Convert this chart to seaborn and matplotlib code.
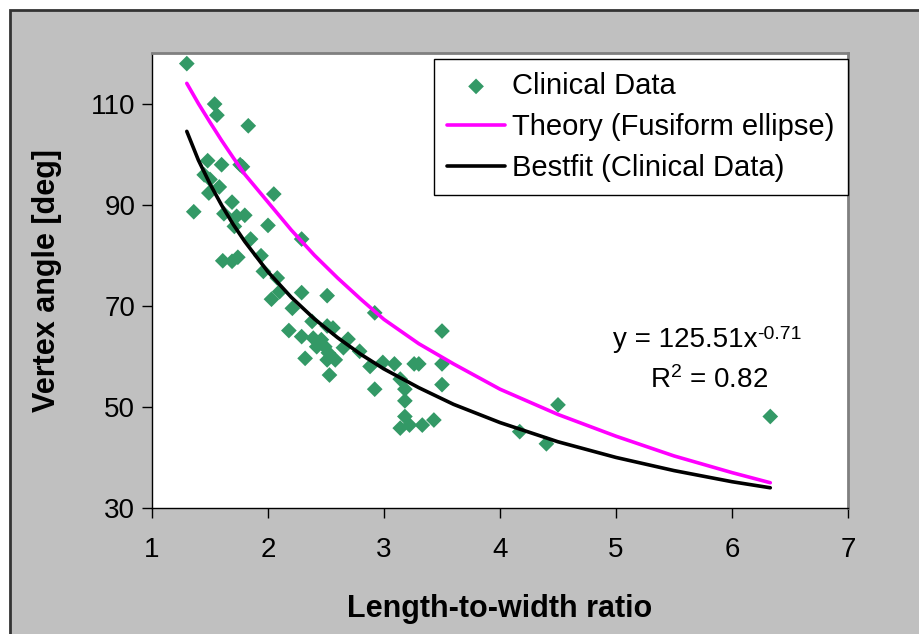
import matplotlib
matplotlib.use("Agg")
import matplotlib.pyplot as plt
from matplotlib.patches import Rectangle
import seaborn as sns
import pandas as pd

# clinical data (length-to-width ratio, vertex angle in degrees)
ratio = [1.30, 1.54, 1.56, 1.83, 1.48, 1.60, 1.76, 1.78, 1.45, 1.50,
         1.58, 1.49, 1.36, 1.69, 1.62, 1.73, 1.80, 1.71, 2.05, 2.00,
         1.85, 1.61, 1.69, 1.74, 1.94, 1.96, 2.08, 2.10, 2.29, 2.03,
         2.29, 2.21, 2.51, 2.38, 2.18, 2.29, 2.51, 2.56, 2.92, 2.39,
         2.46, 2.42, 2.49, 2.52, 2.51, 2.58, 2.69, 2.65, 2.32, 2.53,
         2.79, 2.88, 2.99, 3.09, 3.26, 3.30, 3.50, 3.50, 3.14, 2.92,
         3.18, 3.50, 3.18, 3.18, 3.14, 3.22, 3.33, 3.43, 4.17, 4.40,
         4.50, 6.33]
angle = [117.9, 109.9, 107.7, 105.6, 98.7, 97.9, 97.9, 97.5, 95.9, 95.0,
         93.5, 92.3, 88.6, 90.5, 88.2, 87.7, 87.9, 85.7, 92.1, 85.9,
         83.2, 78.9, 78.8, 79.6, 79.9, 76.8, 75.5, 72.8, 72.6, 71.3,
         83.2, 69.5, 72.0, 66.9, 65.1, 63.9, 66.0, 65.6, 68.6, 63.6,
         63.3, 61.9, 61.9, 60.7, 59.3, 59.3, 63.4, 61.7, 59.6, 56.3,
         61.0, 58.0, 58.8, 58.5, 58.5, 58.5, 58.5, 65.0, 55.5, 53.5,
         53.5, 54.4, 51.2, 48.1, 45.8, 46.4, 46.4, 47.4, 45.1, 42.7,
         50.4, 48.1]

# curves
curve_x = [1.30, 1.40, 1.50, 1.60, 1.70, 1.80, 2.00, 2.20, 2.40, 2.60,
           2.80, 3.00, 3.30, 3.60, 4.00, 4.50, 5.00, 5.50, 6.00, 6.33]
theory_y = [114.0, 110.0, 106.3, 102.7, 99.3, 96.0, 90.5, 85.0, 80.0, 75.5,
            71.3, 67.3, 62.5, 58.5, 53.5, 48.5, 44.2, 40.3, 37.0, 35.0]
bestfit_y = [104.5, 98.8, 94.1, 89.9, 86.1, 82.7, 76.7, 71.7, 67.4, 63.7,
             60.4, 57.5, 53.8, 50.5, 46.9, 43.1, 40.0, 37.4, 35.2, 34.0]

x_ticks = [1, 2, 3, 4, 5, 6, 7]
y_ticks = [30, 50, 70, 90, 110]

sns.set_style("white")
plt.rcParams["font.family"] = ["Liberation Sans", "DejaVu Sans"]
plt.rcParams["mathtext.default"] = "regular"
plt.rcParams["text.color"] = "black"
plt.rcParams["axes.labelcolor"] = "black"

clinical = pd.DataFrame({"ratio": ratio, "angle": angle})
curves = pd.DataFrame({"x": curve_x, "theory": theory_y, "bestfit": bestfit_y})

fig = plt.figure(figsize=(9.19, 6.34), dpi=100)
fig.patch.set_facecolor("white")
fig.patches.append(Rectangle((10 / 919, -0.05), 1.05, 1 - 10 / 634 + 0.05,
                             transform=fig.transFigure, facecolor="#c0c0c0",
                             edgecolor="#333333", linewidth=2, zorder=-5))

ax = fig.add_axes([152 / 919, 126 / 634, 696 / 919, 455 / 634])
ax.set_facecolor("white")

sns.scatterplot(data=clinical, x="ratio", y="angle", marker="D", s=64,
                color="#339966", edgecolor="none", label="Clinical Data",
                ax=ax, zorder=3)
sns.lineplot(data=curves, x="x", y="theory", color="#ff00ff", linewidth=2.6,
             label="Theory (Fusiform ellipse)", ax=ax, zorder=4)
sns.lineplot(data=curves, x="x", y="bestfit", color="black", linewidth=2.6,
             label="Bestfit (Clinical Data)", ax=ax, zorder=4)

ax.set_xlim(1, 7)
ax.set_ylim(30, 120)
ax.set_xticks(x_ticks)
ax.set_yticks(y_ticks)
ax.tick_params(axis="both", direction="out", length=7, width=1, color="black",
               labelsize=20, labelcolor="black", bottom=True, left=True)
ax.tick_params(axis="x", pad=14)
ax.tick_params(axis="y", pad=5)
for side in ["left", "bottom"]:
    ax.spines[side].set_color("black")
    ax.spines[side].set_linewidth(1)
for side in ["top", "right"]:
    ax.spines[side].set_color("#808080")
    ax.spines[side].set_linewidth(2)

ax.set_xlabel("Length-to-width ratio", fontsize=22, fontweight="bold", labelpad=22)
ax.set_ylabel("Vertex angle [deg]", fontsize=22, fontweight="bold", labelpad=21)

# trendline label
eq = ax.text(6.22, 63.3, "y = 125.51x", fontsize=20, ha="right", va="center")
ax.annotate("-0.71", xy=(1.0, 1.0), xycoords=eq, xytext=(0, -6),
            textcoords="offset points", fontsize=14, ha="left", va="center")
ax.text(5.80, 55.3, "R$^{2}$ = 0.82", fontsize=20, ha="center", va="center")

leg = ax.legend(loc="upper right", bbox_to_anchor=(1.0, 0.987), borderaxespad=0,
                fontsize=21, frameon=True, fancybox=False, framealpha=1,
                handlelength=2.0, handletextpad=0.25, labelspacing=0.45,
                borderpad=0.45)
leg.get_frame().set_edgecolor("black")
leg.get_frame().set_linewidth(1)

fig.savefig("out.png", dpi=100)
